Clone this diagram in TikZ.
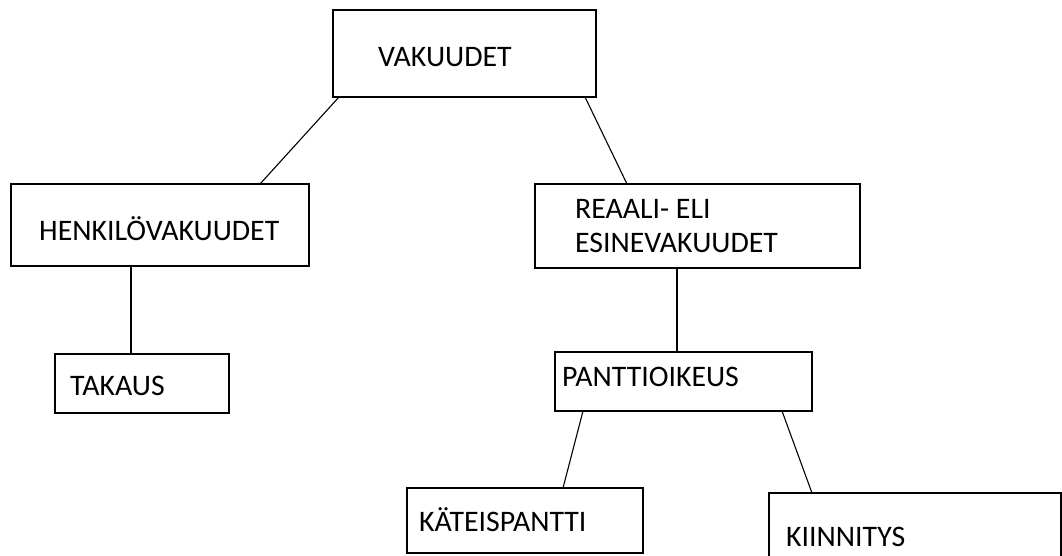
\documentclass[tikz,border=0pt]{standalone}
\usepackage{fontspec}
\setmainfont{Carlito}
\usetikzlibrary{calc}
\begin{document}
\begin{tikzpicture}[x=1pt,y=-1pt,
  box/.style={draw, line width=1.6pt, inner sep=0pt, outer sep=0pt},
  lbl/.style={anchor=base west, inner sep=0pt, font=\fontsize{29.8}{36}\selectfont},
  conn/.style={line width=1.1pt}]
\path[use as bounding box] (0,0) rectangle (1062,555);
\clip (0,0) rectangle (1062,555);
% boxes
\node[box, minimum width=263pt, minimum height=87pt] (vak) at (464.5,53.5) {};
\node[box, minimum width=298pt, minimum height=82pt] (henk) at (160,225) {};
\node[box, minimum width=325pt, minimum height=84pt] (reaali) at (697.5,226) {};
\node[box, minimum width=174pt, minimum height=59pt] (takaus) at (142,383.5) {};
\node[box, minimum width=257pt, minimum height=59pt] (pantti) at (683.5,381.5) {};
\node[box, minimum width=236pt, minimum height=65pt] (kat) at (525,520.5) {};
\node[box, minimum width=292pt, minimum height=80pt] (kiin) at (915,533) {};
% texts
\node[lbl] (tvak) at (378,66) {VAKUUDET};
\node[lbl] (thenk) at (39,240) {HENKILÖVAKUUDET};
\node[lbl] (treaali1) at (575,218) {REAALI- ELI};
\node[lbl] (treaali2) at (575,252) {ESINEVAKUUDET};
\node[lbl] (ttakaus) at (70,395) {TAKAUS};
\node[lbl] (tpantti) at (562,386) {PANTTIOIKEUS};
\node[lbl] (tkat) at (419,531) {KÄTEISPANTTI};
\node[lbl] (tkiin) at (786,546) {KIINNITYS};
% connectors
\draw[conn] ($(vak.south west)+(6,0)$) -- ($(henk.north west)+(249,0)$);
\draw[conn] ($(vak.south west)+(252,0)$) -- ($(reaali.north west)+(92,0)$);
\draw[conn] ($(henk.south west)+(120,0)$) -- ($(takaus.north west)+(76,0)$);
\draw[conn] ($(reaali.south west)+(142,0)$) -- ($(pantti.north west)+(122,0)$);
\draw[conn] ($(pantti.south west)+(28,0)$) -- ($(kat.north west)+(156,0)$);
\draw[conn] ($(pantti.south west)+(227,0)$) -- ($(kiin.north west)+(43,0)$);
\end{tikzpicture}
\end{document}
